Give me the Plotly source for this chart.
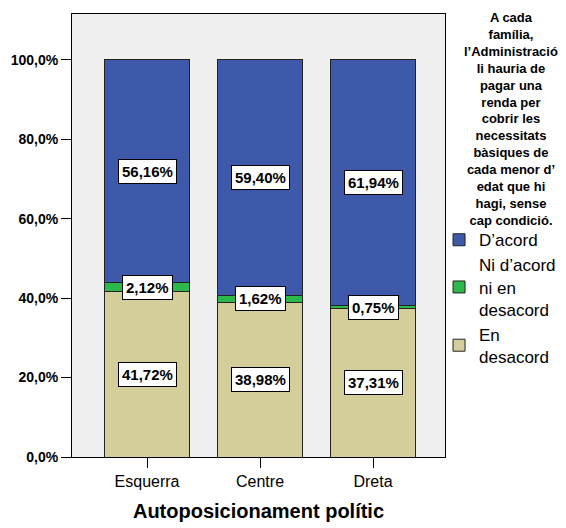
import plotly.graph_objects as go

categories = ["Esquerra", "Centre", "Dreta"]
en_desacord = [41.72, 38.98, 37.31]
ni_ni = [2.12, 1.62, 0.75]
d_acord = [56.16, 59.40, 61.94]
y_ticks = [0, 20, 40, 60, 80, 100]
y_tick_labels = ["0,0%", "20,0%", "40,0%", "60,0%", "80,0%", "100,0%"]

series = [
    ("En<br>desacord", en_desacord, "#D4CF9A"),
    ("Ni d’acord<br>ni en<br>desacord", ni_ni, "#2DB84B"),
    ("D’acord", d_acord, "#3E59AA"),
]

legend_title = ("A cada<br>família,<br>l’Administració<br>li hauria de<br>pagar una<br>renda per<br>"
                "cobrir les<br>necessitats<br>bàsiques de<br>cada menor d’<br>edat que hi<br>hagi, sense<br>cap condició.")

fig = go.Figure()
for name, vals, col in series:
    fig.add_trace(go.Bar(x=categories, y=vals, name=name, width=0.75,
                         marker=dict(color=col, line=dict(color="#222222", width=1))))

# boxed value labels in the middle of each segment
base = [0, 0, 0]
for name, vals, col in series:
    for i, c in enumerate(categories):
        fig.add_annotation(x=c, y=base[i] + vals[i] / 2,
                           text="<b>" + f"{vals[i]:.2f}%".replace(".", ",") + "</b>",
                           showarrow=False, bgcolor="white", bordercolor="black", borderwidth=1,
                           borderpad=3, font=dict(family="Liberation Sans", size=15, color="black"))
        base[i] += vals[i]

fig.add_annotation(xref="paper", yref="paper", x=1.177, y=1.013, xanchor="center", yanchor="top",
                   text=f"<b>{legend_title}</b>", showarrow=False, align="center",
                   font=dict(family="Liberation Sans", size=13, color="black"))

fig.update_layout(
    barmode="stack",
    width=558, height=520,
    margin=dict(l=64, r=121, t=6, b=71, autoexpand=False),
    paper_bgcolor="white",
    plot_bgcolor="#F0F0F0",
    font=dict(family="Liberation Sans", color="black"),
    legend=dict(traceorder="reversed", x=0.984, y=0.53, xanchor="left", yanchor="top",
                font=dict(size=17, family="Liberation Sans"),
                tracegroupgap=2, bgcolor="rgba(0,0,0,0)"),
    xaxis=dict(range=[-0.664, 2.637], showline=True, linecolor="black", mirror=True,
               ticks="outside", ticklen=10, tickcolor="black",
               tickfont=dict(size=16, family="Liberation Sans"),
               title=dict(text="<b>Autoposicionament polític</b>", font=dict(size=20), standoff=14)),
    yaxis=dict(range=[0, 111.5], tickvals=y_ticks, ticktext=[f"<b>{t}</b>" for t in y_tick_labels],
               showline=True, linecolor="black", mirror=True, showgrid=False, zeroline=False,
               ticks="outside", ticklen=10, tickcolor="black",
               tickfont=dict(size=14, family="Liberation Sans")),
)

fig.write_html("out.html")
